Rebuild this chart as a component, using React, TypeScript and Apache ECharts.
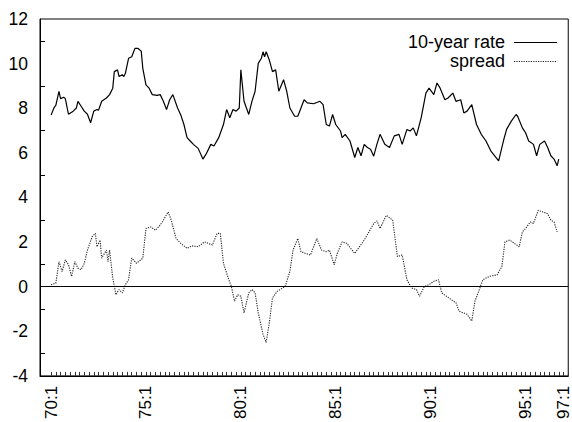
import { useEffect, useRef } from "react";
import * as echarts from "echarts";

// Readings: [months since 1970:1, value]
const rate10y: [number, number][] = [
  [0, 7.69], [2, 8.04], [3, 8.13], [5, 8.76], [6, 8.43], [8, 8.49], [9, 8.43], [11, 7.73],
  [14, 7.87], [16, 8.01], [17, 8.31], [19, 8.09], [21, 7.87], [23, 7.73], [25, 7.35], [27, 7.87],
  [29, 7.94], [30, 7.91], [32, 8.31], [35, 8.46], [37, 8.61], [39, 8.9], [40, 9.64], [42, 9.72],
  [43, 9.42], [45, 9.5], [46, 9.42], [47, 9.57], [49, 10.24], [51, 10.31], [53, 10.68], [55, 10.68],
  [57, 10.56], [58, 9.79], [60, 9.05], [62, 8.9], [64, 8.61], [67, 8.58], [69, 8.61], [71, 8.31],
  [73, 7.94], [75, 8.38], [77, 8.61], [80, 8.01], [82, 7.7], [84, 7.27], [86, 6.68], [88, 6.53],
  [90, 6.38], [93, 6.2], [96, 5.72], [98, 5.94], [101, 6.38], [103, 6.31], [106, 6.68], [109, 7.27],
  [111, 7.94], [113, 7.57], [115, 7.94], [117, 7.87], [119, 8.01], [120, 9.72], [122, 8.31], [125, 7.72],
  [127, 8.31], [129, 8.76], [131, 10.01], [133, 10.24], [134, 10.53], [135, 10.31], [136, 10.53], [138, 10.16],
  [140, 9.64], [142, 9.72], [144, 8.76], [147, 9.28], [149, 8.76], [151, 8.01], [154, 7.64], [156, 7.64],
  [158, 8.01], [160, 8.38], [162, 8.24], [166, 8.2], [170, 8.31], [172, 8.16], [174, 7.27], [176, 7.2],
  [178, 7.72], [180, 7.27], [183, 6.98], [184, 6.68], [186, 6.83], [189, 6.53], [192, 5.79], [194, 6.24],
  [196, 5.87], [198, 6.38], [200, 6.24], [202, 6.16], [204, 5.85], [206, 6.38], [208, 6.83], [211, 6.38],
  [214, 6.24], [217, 6.76], [220, 6.83], [222, 6.38], [225, 7.05], [227, 6.98], [229, 7.12], [231, 6.76],
  [234, 7.57], [237, 8.68], [239, 8.9], [242, 8.61], [244, 9.13], [246, 8.9], [249, 8.38], [251, 8.46],
  [254, 8.68], [256, 8.31], [259, 8.38], [261, 7.79], [263, 7.87], [266, 8.16], [269, 7.27], [272, 6.83],
  [275, 6.53], [278, 6.09], [283, 5.64], [286, 6.53], [288, 7.05], [291, 7.42], [294, 7.72], [295, 7.64],
  [298, 7.12], [300, 6.9], [302, 6.53], [305, 6.38], [307, 5.87], [309, 6.38], [312, 6.53], [314, 6.24],
  [316, 5.87], [318, 5.72], [320, 5.42], [321, 5.72],
];
const spread: [number, number][] = [
  [0, 0.09], [3, 0.16], [5, 1.12], [7, 0.68], [9, 1.2], [11, 0.98], [13, 0.46], [15, 1.12],
  [17, 0.83], [19, 0.76], [21, 1.05], [23, 1.64], [26, 2.24], [28, 2.39], [29, 1.79], [31, 2.09],
  [32, 1.28], [35, 1.64], [36, 1.12], [37, 1.64], [39, 0.39], [41, -0.36], [43, -0.13], [45, -0.28],
  [47, 0.09], [49, 0.31], [51, 1.28], [54, 1.05], [58, 1.28], [60, 2.61], [63, 2.68], [66, 2.53],
  [69, 2.76], [71, 2.98], [74, 3.35], [76, 2.98], [79, 2.16], [82, 1.94], [86, 1.72], [89, 1.83],
  [93, 1.79], [97, 2.01], [102, 1.87], [105, 2.39], [107, 2.39], [109, 1.05], [112, 0.39], [114, 0.01],
  [116, -0.65], [118, -0.36], [120, -0.43], [122, -1.17], [125, -0.28], [127, -0.13], [129, -0.28], [131, -1.17],
  [134, -2.13], [136, -2.5], [138, -1.61], [140, -0.5], [143, -0.21], [148, 0.01], [151, 0.68], [153, 1.64],
  [156, 2.16], [158, 1.57], [161, 1.49], [164, 1.42], [168, 2.16], [171, 1.64], [174, 1.57], [176, 1.64],
  [179, 0.98], [181, 1.49], [184, 2.01], [187, 1.94], [192, 1.49], [195, 1.79], [198, 2.09], [201, 2.46],
  [204, 2.83], [206, 2.95], [208, 2.61], [212, 3.2], [216, 2.98], [219, 1.35], [222, 1.42], [225, 0.31],
  [228, -0.06], [231, -0.13], [233, -0.43], [236, 0.01], [239, 0.09], [242, 0.24], [245, 0.31], [247, -0.28],
  [250, -0.43], [253, -0.58], [256, -0.72], [258, -1.1], [263, -1.24], [266, -1.54], [268, -0.65], [270, -0.28],
  [273, 0.31], [277, 0.46], [282, 0.53], [285, 0.9], [287, 2.01], [290, 2.09], [293, 1.94], [296, 1.79],
  [298, 2.46], [300, 2.61], [303, 2.9], [305, 2.83], [308, 3.42], [311, 3.35], [314, 3.27], [316, 2.98],
  [318, 2.9], [320, 2.46],
];
const shownLabels = ["70:1", "75:1", "80:1", "85:1", "90:1", "95:1", "97:1"];
const seriesNames = ["10-year rate", "spread"];

// monthly axis from 1969-06 to 1997-04
const axisStart = 1969 * 12 + 6;
const axisEnd = 1997 * 12 + 4;
const dataStart = 1970 * 12 + 1;

const FONT = '"Liberation Sans", Arial, Helvetica, sans-serif';

export default function App() {
  const ref = useRef<HTMLDivElement>(null);
  useEffect(() => {
    if (!ref.current) return;
    const chart = echarts.init(ref.current, null, { renderer: "svg" });
    const cats: string[] = [];
    for (let k = axisStart; k <= axisEnd; k++) {
      const y = Math.floor((k - 1) / 12);
      const m = k - y * 12;
      const yy = String(y % 100).padStart(2, "0");
      const isQ = (m - 1) % 3 === 0;
      cats.push(isQ ? `${yy}:${(m - 1) / 3 + 1}` : `${yy}-${m}`);
    }
    const off = dataStart - axisStart;
    const toData = (arr: [number, number][]) => arr.map(([mo, v]) => [mo + off, v]);
    chart.setOption({
      animation: false,
      textStyle: { fontFamily: FONT },
      grid: {
        left: 40,
        right: -3,
        top: 19,
        bottom: 45,
        show: true,
        borderColor: "#000",
        borderWidth: 1,
      },
      xAxis: {
        type: "category",
        data: cats,
        boundaryGap: false,
        axisLine: { onZero: false, lineStyle: { color: "#000", width: 1 } },
        axisTick: {
          inside: true,
          length: 4,
          interval: (i: number, v: string) => v.includes(":") && i >= off,
          lineStyle: { color: "#333", width: 1 },
        },
        axisLabel: {
          interval: (i: number, v: string) => shownLabels.includes(v),
          rotate: 90,
          margin: 10,
          fontSize: 17,
          color: "#000",
          fontFamily: FONT,
        },
        splitLine: { show: false },
      },
      yAxis: {
        type: "value",
        min: -4,
        max: 12,
        interval: 2,
        axisLine: { show: true, lineStyle: { color: "#000", width: 1 } },
        axisTick: { inside: true, length: 5, lineStyle: { color: "#000" } },
        minorTick: { show: true, splitNumber: 2, length: 5, lineStyle: { color: "#000" } },
        axisLabel: { fontSize: 17.5, color: "#000", margin: 12, fontFamily: FONT },
        splitLine: { show: false },
      },
      series: [
        {
          name: seriesNames[0],
          type: "line",
          data: toData(rate10y),
          showSymbol: false,
          symbol: "none",
          lineStyle: { color: "#000", width: 1.2 },
        },
        {
          name: seriesNames[1],
          type: "line",
          data: toData(spread),
          showSymbol: false,
          symbol: "none",
          lineStyle: { color: "#222", width: 1.1, type: [1.2, 1.2] },
          markLine: {
            silent: true,
            symbol: ["none", "none"],
            label: { show: false },
            lineStyle: { color: "#000", width: 1, type: "solid" },
            data: [{ yAxis: 0 }],
          },
        },
      ],
      graphic: [
        {
          type: "text",
          x: 505,
          y: 42,
          style: { text: seriesNames[0], align: "right", verticalAlign: "middle", font: `18px ${FONT}`, fill: "#000" },
        },
        {
          type: "line",
          shape: { x1: 514, y1: 42.5, x2: 557, y2: 42.5 },
          style: { stroke: "#000", lineWidth: 1.2 },
        },
        {
          type: "text",
          x: 505,
          y: 61,
          style: { text: seriesNames[1], align: "right", verticalAlign: "middle", font: `18px ${FONT}`, fill: "#000" },
        },
        {
          type: "line",
          shape: { x1: 514, y1: 61.5, x2: 557, y2: 61.5 },
          style: { stroke: "#222", lineWidth: 1.1, lineDash: [1.2, 1.2] },
        },
      ],
    });
    return () => chart.dispose();
  }, []);
  return <div ref={ref} style={{ width: 572, height: 422, position: "absolute", left: 0, top: 0 }} />;
}
